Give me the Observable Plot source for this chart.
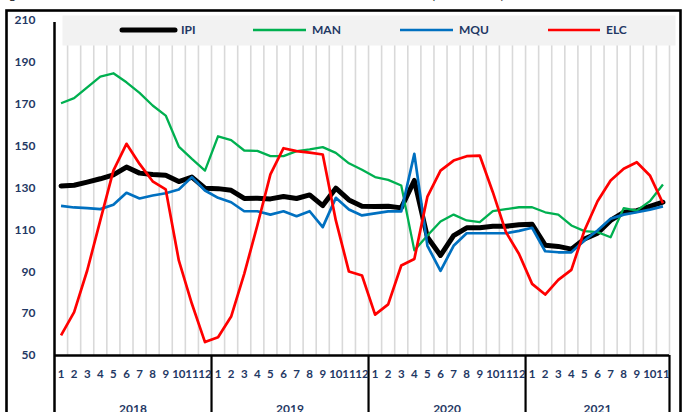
<!DOCTYPE html>
<html><head><meta charset="utf-8">
<script src="https://cdn.jsdelivr.net/npm/d3@7"></script>
<script src="https://cdn.jsdelivr.net/npm/@observablehq/plot@0.6"></script>
<style>body{margin:0;background:#fff;} svg{display:block}</style>
</head><body><div id="chart"></div>
<script>
// ---- data ----
const years = ["2018", "2019", "2020", "2021"];
const monthsPerYear = [12, 12, 12, 11];
const monthNames = ["1","2","3","4","5","6","7","8","9","10","11","12"];
const seriesNames = ["IPI", "MAN", "MQU", "ELC"];
const yTicks = [50, 70, 90, 110, 130, 150, 170, 190, 210];
const titleText = "Figure 1 : Évolution mensuelle des indices de la Production Industrielle (2015 = 100)";

const ipi = [131, 131.3, 132.8, 134.4, 136.3, 140, 137.1, 136.4, 136.1, 133.1, 135.2, 129.9,
             129.7, 128.9, 125, 125.1, 124.8, 125.9, 125, 126.7, 121.6, 129.9, 124.3, 121.3,
             121.2, 121.3, 120.5, 133.6, 106.5, 97.8, 107.3, 111, 111, 111.7, 111.7, 112.4,
             112.7, 102.7, 102.1, 100.8, 105.6, 108.4, 114.5, 118.4, 119.2, 121.2, 123.2];
const man = [170.5, 172.9, 178.1, 183.2, 184.8, 180.5, 175.4, 169.4, 164.6, 149.8, 143.9, 138.3,
             154.7, 152.9, 147.9, 147.7, 145.2, 145.2, 147.6, 148.4, 149.5, 146.8, 141.8, 138.7,
             135.2, 133.9, 131.2, 100.2, 107.3, 114, 117.3, 114.5, 113.7, 119, 119.9, 120.8,
             120.8, 118.4, 117.3, 112.1, 109.4, 108.9, 106.5, 120.4, 119.2, 123.7, 131.7];
const mqu = [121.5, 120.7, 120.4, 119.9, 122, 127.7, 125, 126.4, 127.5, 129.3, 135.2, 128.8,
             125.3, 123.2, 118.9, 118.9, 117.3, 118.9, 116.5, 118.9, 111.3, 125.3, 119.7, 116.9,
             117.9, 118.8, 118.8, 146.3, 102.4, 90.4, 102.4, 108.4, 108.4, 108.4, 108.4, 109.5,
             111, 99.8, 99.3, 99.3, 104.9, 109.7, 115.3, 117.3, 118.4, 119.7, 121.2];
const elc = [59.6, 70.7, 90.6, 114.5, 138.3, 151.1, 141.5, 133.2, 129.3, 95.4, 74.7, 56.4,
             58.7, 68.6, 89, 112.1, 136.5, 149, 147.6, 146.9, 146, 114.5, 90.1, 88.2,
             69.5, 74.4, 93, 96.1, 125.9, 138.3, 143.1, 145.2, 145.5, 128, 108.9, 98.5,
             84.2, 79.1, 86.1, 90.9, 109.7, 123.7, 133.6, 139.2, 142.3, 136, 122.7];

// ---- derived tables ----
const seriesValues = [ipi, man, mqu, elc];
const colors = {IPI: "#000000", MAN: "#00B050", MQU: "#0070C0", ELC: "#FF0000"};
const widths = {IPI: 5, MAN: 2.3, MQU: 2.7, ELC: 2.7};
const months = [];
const yearRows = [];
let start = 0;
years.forEach((y, k) => {
  for (let m = 0; m < monthsPerYear[k]; m++) months.push({i: start + m, label: monthNames[m]});
  yearRows.push({year: y, start, end: start + monthsPerYear[k]});
  start += monthsPerYear[k];
});
const nMonths = start;
const boundaries = yearRows.map(d => d.end);
const rowsOf = k => seriesValues[k].map((v, i) => ({series: seriesNames[k], i, v}));

const navy = "#1F3864";
const font = "Lato, 'Open Sans', sans-serif";
const W = 684, H = 412, ML = 54, MR = 15, MT = 20, MB = 57;

const chart = Plot.plot({
  width: W, height: H,
  marginLeft: ML, marginRight: MR, marginTop: MT, marginBottom: MB,
  style: {fontFamily: font, background: "#fff", overflow: "visible"},
  x: {type: "linear", domain: [0, nMonths], axis: null},
  y: {domain: [50, 210], axis: null},
  marks: [
    // vertical light grid at month boundaries
    Plot.ruleX(d3.range(1, nMonths + 1), {stroke: "#d9d9d9", strokeWidth: 1.6}),
    // legend background box
    Plot.frame({fill: "#f2f2f2", stroke: null, insetLeft: 8, insetRight: -6, insetTop: -5, insetBottom: 310}),
    // series lines
    ...seriesNames.map((s, k) => Plot.line(rowsOf(k), {
      x: d => d.i + 0.5, y: "v", stroke: colors[s], strokeWidth: widths[s],
      strokeLinejoin: "round", strokeLinecap: s === "IPI" ? "round" : "butt"
    })),
    // baseline + category box lines
    Plot.ruleY([50], {stroke: "#000", strokeWidth: 2.5}),
    Plot.ruleX(boundaries, {stroke: "#000", strokeWidth: 2.2, insetTop: 335, insetBottom: -70}),
    Plot.ruleX([0], {stroke: "#000", strokeWidth: 2.5, insetTop: 2, insetBottom: -70}),
    // outer border
    Plot.frame({stroke: "#000", strokeWidth: 2.6, fill: "none", insetLeft: -48, insetTop: -10, insetRight: -11, insetBottom: -70}),
    // y tick labels
    Plot.text(yTicks, {y: d => d, text: d => String(d), frameAnchor: "left", dx: -19, textAnchor: "end",
      fill: navy, fontWeight: "bold", fontSize: 12, fontFamily: font}),
    // month labels
    Plot.text(months, {x: d => d.i + 0.5, text: d => d.label, frameAnchor: "bottom", dy: 22,
      fill: navy, fontWeight: "bold", fontSize: 11.5, fontFamily: font}),
    // year labels (cut by the page bottom, as in the reference)
    Plot.text(yearRows, {x: d => (d.start + d.end) / 2, text: d => d.year, frameAnchor: "bottom", dy: 57,
      fill: navy, fontWeight: "bold", fontSize: 12, fontFamily: font}),
    // title (mostly above the visible page, as in the reference)
    Plot.text([titleText], {frameAnchor: "top-left", dx: -58, dy: -23, lineAnchor: "bottom", textAnchor: "start",
      fill: "#000", fontSize: 14.5, fontWeight: "bold", fontStyle: "italic", fontFamily: "'Liberation Serif', serif"})
  ]
});
document.getElementById("chart").appendChild(chart);

// legend inside the grey box
const svg = d3.select(chart);
const legendItems = [
  {s: "IPI", x1: 122, x2: 175},
  {s: "MAN", x1: 253, x2: 306},
  {s: "MQU", x1: 400, x2: 453},
  {s: "ELC", x1: 548, x2: 600}
];
const lg = svg.append("g").attr("text-anchor", "start");
legendItems.forEach(d => {
  lg.append("line").attr("x1", d.x1).attr("x2", d.x2).attr("y1", 30).attr("y2", 30)
    .attr("stroke", colors[d.s]).attr("stroke-width", d.s === "IPI" ? 5 : 2.7)
    .attr("stroke-linecap", d.s === "IPI" ? "round" : "butt");
  lg.append("text").attr("x", d.x2 + 6).attr("y", 30).attr("dy", "0.35em")
    .attr("text-anchor", "start")
    .attr("fill", navy).attr("font-weight", "bold").attr("font-size", 12)
    .attr("font-family", font).text(d.s);
});
</script>
</body></html>
